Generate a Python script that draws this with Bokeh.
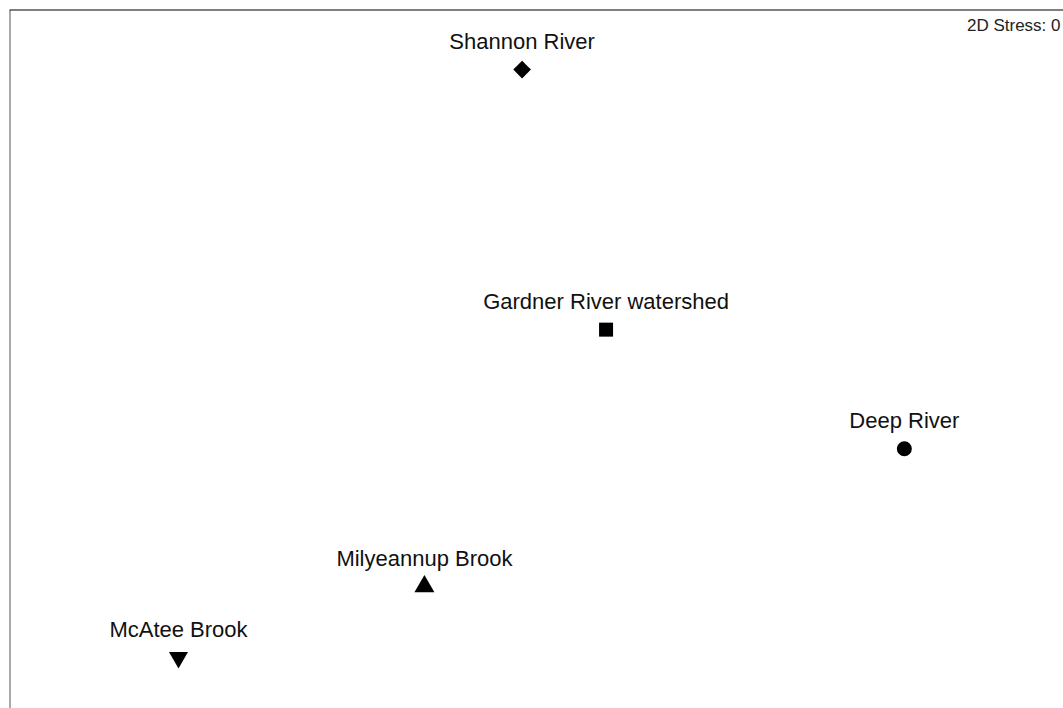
from bokeh.plotting import figure
from bokeh.models import Range1d, Span, Label, ColumnDataSource
from bokeh.core.properties import value
from bokeh.embed import file_html
from bokeh.resources import INLINE
import math

# NMDS ordination of sites (2D)
sites = ["Shannon River", "Gardner River watershed", "Deep River", "Milyeannup Brook", "McAtee Brook"]
mds1 = [-0.041, 0.198, 1.047, -0.319, -1.019]
mds2 = [0.828, 0.084, -0.257, -0.651, -0.854]
markers = ["square", "square", "circle", "triangle", "inverted_triangle"]
sizes = [12.5, 14, 15, 20, 19]
angles = [math.pi / 4, 0, 0, 0, 0]
stress_text = "2D Stress: 0"

X_RANGE = (-1.5, 1.5)
Y_RANGE = (-1.0, 1.0)

p = figure(width=1063, height=708, output_backend="svg", toolbar_location=None,
           x_range=Range1d(*X_RANGE), y_range=Range1d(*Y_RANGE),
           x_axis_location=None, y_axis_location=None,
           min_border_left=9, min_border_top=9, min_border_right=0, min_border_bottom=0)
p.grid.visible = False
p.outline_line_color = None
p.background_fill_color = "white"
p.border_fill_color = "white"

src = ColumnDataSource(dict(x=mds1, y=mds2, name=sites, marker=markers, size=sizes, angle=angles))
p.scatter(x="x", y="y", marker="marker", size="size", angle="angle", source=src,
          fill_color="black", line_color="black", line_width=0)
p.text(x="x", y="y", text="name", source=src, text_align="center", text_baseline="alphabetic",
       y_offset=-28, text_font=value("Liberation Sans"), text_font_size="22px", text_color="#111111")

# frame: left and top edges only (right/bottom fall outside the view)
p.add_layout(Span(location=X_RANGE[0], dimension="height", line_color="#555555", line_width=2))
p.add_layout(Span(location=Y_RANGE[1], dimension="width", line_color="black", line_width=2))

p.add_layout(Label(x=X_RANGE[1], y=Y_RANGE[1], text=stress_text, x_offset=-3, y_offset=-16,
                   text_align="right", text_baseline="alphabetic",
                   text_font="Liberation Sans", text_font_size="17px", text_color="#222222"))

open("out.html", "w").write(file_html(p, INLINE))
